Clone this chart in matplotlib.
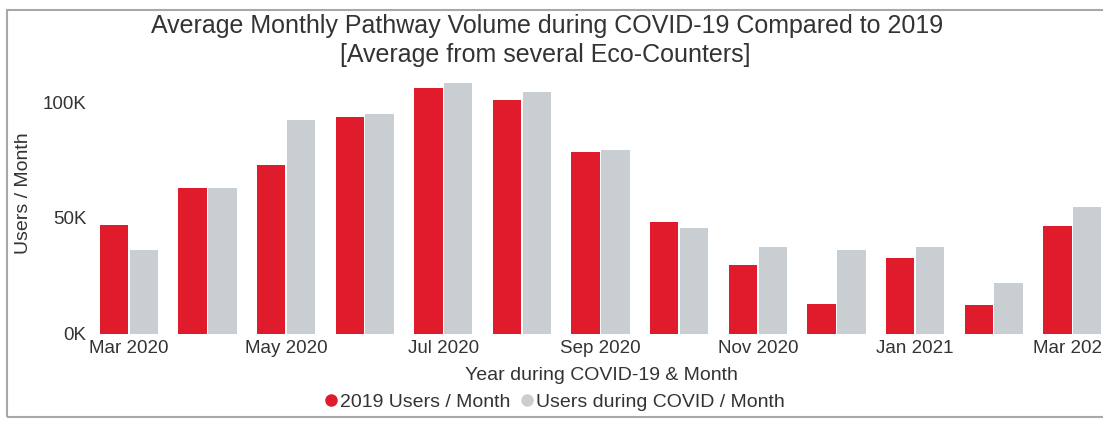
import numpy as np
import matplotlib
matplotlib.use("Agg")
import matplotlib.pyplot as plt
from matplotlib.lines import Line2D
from matplotlib.patches import Rectangle
from matplotlib.ticker import FuncFormatter

plt.rcParams['font.family'] = ['Liberation Sans', 'DejaVu Sans']

# monthly averages
months = ['Mar 2020', 'Apr 2020', 'May 2020', 'Jun 2020', 'Jul 2020', 'Aug 2020',
          'Sep 2020', 'Oct 2020', 'Nov 2020', 'Dec 2020', 'Jan 2021', 'Feb 2021',
          'Mar 2021']
users_2019 = [46700, 62800, 72800, 93700, 105900, 100900, 78600, 48000, 29500,
              12700, 32800, 12300, 46500]
users_covid = [36200, 63000, 92200, 94700, 108300, 104400, 79500, 45400, 37400,
               36000, 37400, 22000, 54700]

red = '#E01B2C'
grey = '#C9CED3'
txt = '#333333'

W, H = 1103, 422
fig = plt.figure(figsize=(W / 100, H / 100), dpi=100)
ax = fig.add_axes([95 / W, (H - 333.5) / H, (W - 95) / W, (333.5 - 79) / H])

x = np.arange(len(months))
w = 0.36
ax.bar(x - 0.19, users_2019, w, color=red)
ax.bar(x + 0.19, users_covid, w, color=grey)

ax.set_xlim(-0.43, 12.39)
ax.set_ylim(0, 110000)
ax.set_xticks(x[::2])
ax.set_xticklabels(months[::2])
ax.set_yticks([0, 50000, 100000])
ax.yaxis.set_major_formatter(FuncFormatter(lambda v, p: '%dK' % (v / 1000)))
ax.tick_params(length=0, labelsize=13.5, labelcolor=txt)
ax.tick_params(axis='x', pad=5)
ax.tick_params(axis='y', pad=6)
for s in ax.spines.values():
    s.set_visible(False)
ax.patch.set_visible(False)

# titles and axis labels
fig.text(547 / W, (H - 33) / H, 'Average Monthly Pathway Volume during COVID-19 Compared to 2019',
         ha='center', va='baseline', fontsize=18, color=txt)
fig.text(545 / W, (H - 62) / H, '[Average from several Eco-Counters]',
         ha='center', va='baseline', fontsize=18, color=txt)
fig.text(24 / W, (H - 193) / H, 'Users / Month', rotation=90, ha='center', va='center',
         fontsize=14, color=txt)
fig.text(601 / W, (H - 380) / H, 'Year during COVID-19 & Month', ha='center', va='baseline',
         fontsize=14, color=txt)

handles = [Line2D([], [], ls='', marker='o', ms=8, color=red),
           Line2D([], [], ls='', marker='o', ms=8, color=grey)]
fig.legend(handles, ['2019 Users / Month', 'Users during COVID / Month'],
           loc='center', bbox_to_anchor=(555 / W, (H - 402) / H), ncol=2, frameon=False,
           fontsize=14, handlelength=0.6, handletextpad=0.15, columnspacing=0.6,
           borderpad=0, labelcolor=txt)

# light frame around the visual
fig.patches.append(Rectangle((7 / W, (H - 417) / H), (W + 20) / W, 407 / H,
                             transform=fig.transFigure, fill=False,
                             edgecolor='#A8A8A8', lw=1.5))

fig.savefig('out.png', dpi=100)
